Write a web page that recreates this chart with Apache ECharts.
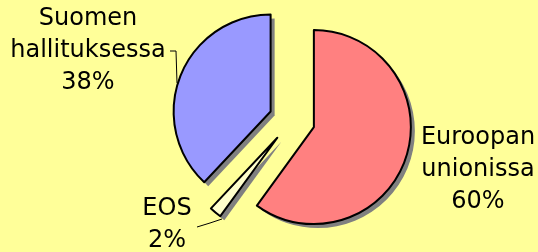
<!DOCTYPE html>
<html>
<head>
<meta charset="utf-8">
<script src="https://cdn.jsdelivr.net/npm/echarts@6/dist/echarts.min.js"></script>
<style>
  html, body { margin: 0; padding: 0; background: #ffff99; }
  #chart { width: 538px; height: 252px; }
</style>
</head>
<body>
<div id="chart"></div>
<script>
const categories = ['Euroopan\nunionissa', 'EOS', 'Suomen\nhallituksessa'];
const shares = [60, 2, 38];
const colors = ['#ff8080', '#ffffcc', '#9999ff'];
// centre of each label block, and its leader line (none for the first)
const labelSpots = [[478, 170], [167, 225], [88, 51]];
const leaderLines = [null, [[222, 219], [210, 223], [197, 227]], [[177, 83], [176, 51], [170, 51]]];

const chart = echarts.init(document.getElementById('chart'));

const pieBase = {
  type: 'pie',
  radius: 97,
  startAngle: 90,
  clockwise: true
};

const option = {
  backgroundColor: '#ffff99',
  animation: false,
  series: [
    // drop shadow: grey copy of the exploded pie, shifted down-right
    Object.assign({}, pieBase, {
      center: [296, 124],
      silent: true,
      z: 1,
      selectedMode: 'multiple',
      selectedOffset: 23,
      itemStyle: { color: '#808080', borderWidth: 0 },
      select: { itemStyle: { color: '#808080', borderWidth: 0 } },
      label: { show: false },
      labelLine: { show: false },
      data: categories.map((name, i) => ({ name: name, value: shares[i], selected: true }))
    }),
    // the exploded slices
    Object.assign({}, pieBase, {
      center: [292, 120],
      z: 2,
      selectedMode: 'multiple',
      selectedOffset: 23,
      itemStyle: { borderColor: '#000', borderWidth: 2 },
      select: { itemStyle: { borderColor: '#000', borderWidth: 2 } },
      label: { show: false },
      labelLine: { show: false },
      data: categories.map((name, i) => ({
        name: name,
        value: shares[i],
        selected: true,
        itemStyle: { color: colors[i] }
      }))
    }),
    // invisible copy that only carries the labels
    Object.assign({}, pieBase, {
      center: [292, 120],
      z: 3,
      silent: true,
      itemStyle: { color: 'rgba(0,0,0,0)', borderWidth: 0 },
      label: {
        show: true,
        position: 'outside',
        color: '#000',
        fontFamily: 'DejaVu Sans',
        fontSize: 24,
        lineHeight: 32,
        align: 'center',
        overflow: 'none',
        formatter: (p) => p.name + '\n' + p.value + '%'
      },
      labelLine: {
        show: true,
        lineStyle: { color: '#000', width: 1 }
      },
      labelLayout: (params) => {
        const spot = labelSpots[params.dataIndex];
        const out = { x: spot[0], y: spot[1], align: 'center', verticalAlign: 'middle' };
        if (leaderLines[params.dataIndex]) out.labelLinePoints = leaderLines[params.dataIndex];
        return out;
      },
      data: categories.map((name, i) => ({
        name: name,
        value: shares[i],
        labelLine: { show: i !== 0 }
      }))
    })
  ]
};

chart.setOption(option);
</script>
</body>
</html>
